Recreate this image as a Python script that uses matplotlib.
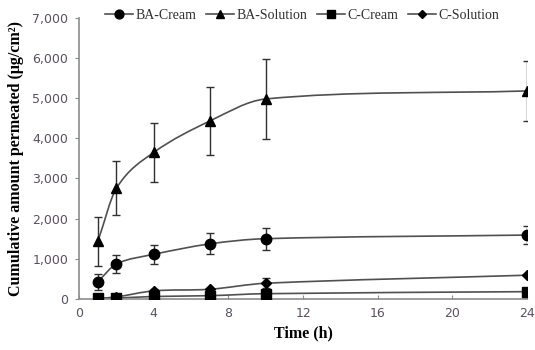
import numpy as np
import matplotlib.pyplot as plt
from matplotlib.path import Path
from matplotlib.patches import PathPatch

# time points (h)
time = [1, 2, 4, 7, 10, 24]

ba_cream = [430, 870, 1110, 1370, 1500, 1590]
ba_cream_err = [200, 220, 240, 260, 270, 230]

ba_solution = [1430, 2760, 3650, 4430, 4980, 5180]
ba_solution_err = [620, 680, 740, 850, 1000, 740]

c_cream = [10, 20, 60, 80, 130, 180]
c_cream_err = [0, 0, 0, 0, 0, 0]

c_solution = [10, 50, 200, 240, 390, 590]
c_solution_err = [0, 0, 40, 40, 130, 0]

labels = ["BA-Cream", "BA-Solution", "C-Cream", "C-Solution"]
markers = ["o", "^", "s", "D"]
msizes = [7.5, 7.5, 7, 5]


def smooth_path(x, y):
    # hermite curve through the points, drawn as bezier segments
    x = np.asarray(x, float)
    y = np.asarray(y, float)
    n = len(x)
    m = np.zeros(n)
    m[0] = (y[1] - y[0]) / (x[1] - x[0])
    m[-1] = (y[-1] - y[-2]) / (x[-1] - x[-2])
    for i in range(1, n - 1):
        m[i] = (y[i + 1] - y[i - 1]) / (x[i + 1] - x[i - 1])
    verts = [(x[0], y[0])]
    codes = [Path.MOVETO]
    for i in range(n - 1):
        dx = x[i + 1] - x[i]
        verts += [(x[i] + dx / 3, y[i] + m[i] * dx / 3),
                  (x[i + 1] - dx / 3, y[i + 1] - m[i + 1] * dx / 3),
                  (x[i + 1], y[i + 1])]
        codes += [Path.CURVE4] * 3
    return Path(verts, codes)


fig = plt.figure(figsize=(5.35, 3.5), dpi=100)
ax = fig.add_axes([0.148, 0.146, 0.837, 0.803])

series = [(ba_cream, ba_cream_err), (ba_solution, ba_solution_err),
          (c_cream, c_cream_err), (c_solution, c_solution_err)]

handles = []
for (vals, err), lab, m, ms in zip(series, labels, markers, msizes):
    ax.add_patch(PathPatch(smooth_path(time, vals), facecolor="none",
                           edgecolor="#505050", lw=1.2, zorder=2))
    ax.errorbar(time, vals, yerr=err, fmt="none", ecolor="#303030",
                elinewidth=1, capsize=3, capthick=1, zorder=3)
    ax.plot(time, vals, ls="none", marker=m, color="black", ms=ms, zorder=4)
    h, = ax.plot([], [], color="#505050", lw=1.2, marker=m, mfc="black",
                 mec="black", ms=ms * 0.85)
    handles.append(h)

ax.set_xlim(0, 24)
ax.set_ylim(0, 7000)
ax.set_xticks([0, 4, 8, 12, 16, 20, 24])
ax.set_yticks(range(0, 7001, 1000))
ax.set_yticklabels([f"{v:,}" for v in range(0, 7001, 1000)])

for s in ["top", "right"]:
    ax.spines[s].set_visible(False)
for s in ["left", "bottom"]:
    ax.spines[s].set_color("#8c8c8c")
    ax.spines[s].set_linewidth(1.2)

ax.tick_params(axis="x", direction="in", length=3, color="#8c8c8c",
               labelsize=9, labelcolor="#5a5060", pad=6)
ax.tick_params(axis="y", direction="out", length=3, color="#8c8c8c",
               labelsize=9, labelcolor="#5a5060", pad=5)
for lbl in ax.get_xticklabels() + ax.get_yticklabels():
    lbl.set_fontfamily("DejaVu Sans")

ax.set_xlabel("Time (h)", fontfamily="Liberation Serif", fontweight="bold",
              fontsize=11.5, labelpad=4)
ax.set_ylabel("Cumulative amount permeated (μg/cm²)",
              fontfamily="Liberation Serif", fontweight="bold",
              fontsize=11.5, labelpad=6)

fig.legend(handles, labels, loc="center", bbox_to_anchor=(0.565, 0.955),
           ncol=4, frameon=False, handlelength=2.0, handletextpad=0.2,
           columnspacing=0.7,
           prop={"family": "Liberation Serif", "size": 10})
for t in fig.legends[0].get_texts():
    t.set_color("#303030")

fig.savefig("out.png", dpi=100)
